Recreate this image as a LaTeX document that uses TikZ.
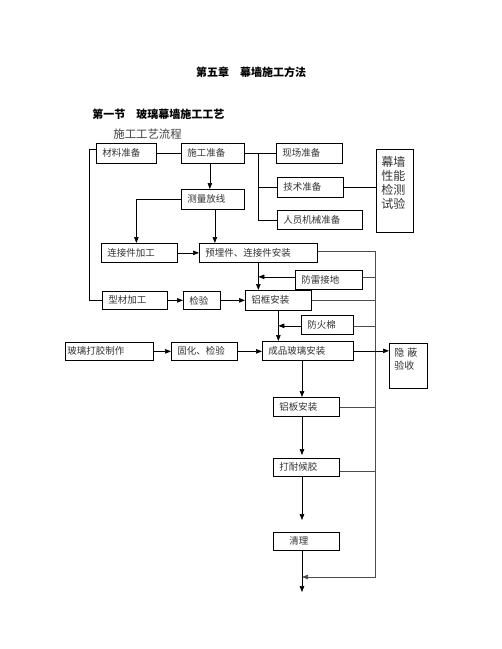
\documentclass[tikz,border=0pt]{standalone}
\usepackage{fontspec}
\setmainfont{Noto Sans CJK SC}
\usetikzlibrary{arrows.meta,calc}
\begin{document}
\begin{tikzpicture}[x=1pt,y=-1pt,line width=0.7pt,
  arr/.style={-{Triangle[length=6pt,width=4.5pt]}},
  box/.style={draw,anchor=north west,inner xsep=6pt,inner ysep=0pt,align=left,minimum height=19pt,font=\fontsize{9.5}{11}\selectfont,text=black!80},
  titlebf/.style={anchor=west,inner sep=0pt,font=\bfseries\fontsize{11}{13}\selectfont},
  bus/.style={draw=black!70}]
\useasboundingbox[fill=white] (0,0) rectangle (502,649);

% titles
\node[titlebf,anchor=center] (t1) at (251,72) {第五章　幕墙施工方法};
\node[titlebf] (t2) at (92,114) {第一节　玻璃幕墙施工工艺};
\node[anchor=west,inner sep=0pt,font=\fontsize{11.4}{13}\selectfont,text=black!75] (t3) at (113,134) {施工工艺流程};

% boxes
\node[box,text width=48pt,minimum height=20pt] (cl) at (96,143) {材料准备};
\node[box,text width=51pt,minimum height=20pt] (sg) at (181,143) {施工准备};
\node[box,text width=54pt,minimum height=20pt] (xc) at (276,143) {现场准备};
\node[box,text width=54pt,minimum height=20pt] (js) at (277,177) {技术准备};
\node[draw,anchor=north west,inner xsep=5pt,inner ysep=7pt,font=\fontsize{12}{14}\selectfont,text=black!80] (mq) at (376,149)
  {\parbox[t][69pt][t]{27pt}{幕墙\\性能\\检测\\试验}};
\node[box,text width=51pt,minimum height=20pt] (cl2) at (181,189) {测量放线};
\node[box,text width=73pt] (ry) at (277,210) {人员机械准备};
\node[box,text width=64pt] (lj) at (101,243) {连接件加工};
\node[box,text width=106pt] (ym) at (199,243) {预埋件、连接件安装};
\node[box,text width=55pt] (fl) at (295,270) {防雷接地};
\node[box,text width=53pt,minimum height=18pt] (xc2) at (102,291) {型材加工};
\node[box,text width=25pt,minimum height=18pt] (jy) at (183,291) {检验};
\node[box,text width=54pt,minimum height=20pt] (lk) at (245,290) {铝框安装};
\node[box,text width=40pt] (fh) at (301,315) {防火棉};
\node[box,inner xsep=2pt,text width=84pt,minimum height=18pt] (bl) at (65,342) {玻璃打胶制作};
\node[box,text width=54pt,minimum height=18pt] (gh) at (171,342) {固化、检验};
\node[box,text width=79pt] (cp) at (262,341) {成品玻璃安装};
\node[draw,anchor=north west,inner xsep=5pt,inner ysep=5pt,font=\fontsize{10}{13}\selectfont,text=black!80] (yb) at (389,343)
  {\parbox[t][35pt][t]{28pt}{隐\hspace{3pt}蔽\\验收}};
\node[box,text width=54pt] (lb) at (273,397) {铝板安装};
\node[box,text width=54pt,minimum height=18pt] (dn) at (273,458) {打耐候胶};
\node[box,text width=54pt,minimum height=18pt] (ql) at (273,532) {\hspace*{10pt}清理};

% helper coordinates
\coordinate (bx) at (258,0);
\coordinate (lx) at (89,0);
\coordinate (bus) at (375,0);
\coordinate (vx) at (302,0);
\coordinate (bend) at (302,577);
\coordinate (endc) at (302,592);

% connectors
\draw (cl.east) -- (sg.west);
\draw[arr] ($(sg.south)+(-3,0)$) -- ($(cl2.north)+(-3,0)$);
\draw (sg.east) -- (xc.west);
\draw (bx |- xc.west) |- (ry.west);
\draw (bx |- js.west) -- (js.west);
\draw (js.east) -- (js.east -| mq.west);
\draw[arr] (cl2.west) -| ($(lj.north)+(-3,0)$);
\draw[arr] ($(cl2.south)+(2,0)$) -- ($(cl2.south |- ym.north)+(2,0)$);
\draw ($(cl.west)+(0,-4)$) -| (lx |- xc2.west) -- (xc2.west);
\draw[arr] (lj.east) -- (ym.west);
\draw[bus,arr] ($(ym.east)+(0,-2)$) -| (bus |- bend) -- (bend);
\draw[arr] (ym.south) -- (ym.south |- lk.north);
\draw[arr] ($(fl.west)+(0,-3)$) -- ($(ym.south |- fl.west)+(0,-3)$);
\draw[bus] ($(fl.east)+(0,-3)$) -- ($(bus |- fl.east)+(0,-3)$);
\draw[arr] (xc2.east) -- (jy.west);
\draw[arr] (jy.east) -- (jy.east -| lk.west);
\draw[bus] (lk.east) -- (bus |- lk.east);
\draw[arr] ($(fh.west)+(0,1)$) -- ($(lk.south |- fh.west)+(0,1)$);
\draw[bus] ($(fh.east)+(0,1)$) -- ($(bus |- fh.east)+(0,1)$);
\draw[arr] (lk.south) -- (lk.south |- cp.north);
\draw[arr] (bl.east) -- (bl.east -| gh.west);
\draw[arr] (gh.east) -- (gh.east -| cp.west);
\draw[arr] (cp.east) -- (cp.east -| yb.west);
\draw[arr] (vx |- cp.south) -- (vx |- lb.north);
\draw[bus] (lb.east) -- (bus |- lb.east);
\draw[bus] ($(dn.east)+(0,4)$) -- ($(bus |- dn.east)+(0,4)$);
\draw[arr] (vx |- lb.south) -- ($(vx |- dn.north)+(0,-3)$);
\draw[arr] (vx |- dn.south) -- ($(vx |- ql.north)+(0,-12)$);
\draw[arr] (vx |- ql.south) -- (endc);
\end{tikzpicture}
\end{document}
